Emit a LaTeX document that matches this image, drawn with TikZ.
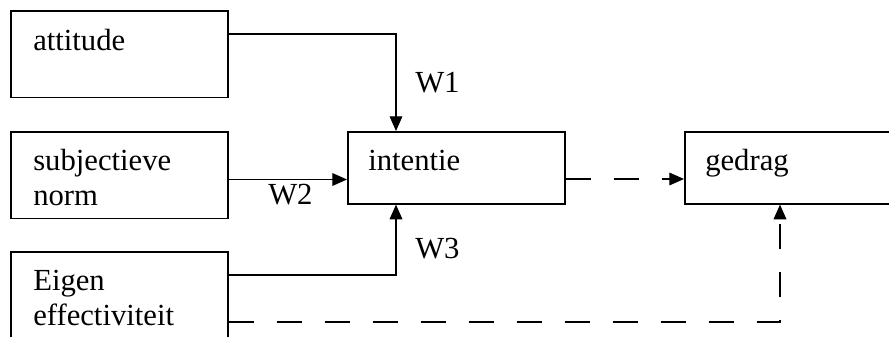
\documentclass[tikz,border=0pt]{standalone}
\usepackage{fontspec}
\setmainfont{Liberation Serif}
\usetikzlibrary{arrows.meta,calc}

\tikzset{
  box/.style={draw, line width=1.2pt, rectangle, anchor=north west, inner sep=0pt,
    minimum width=163pt, minimum height=65pt},
  lbl/.style={anchor=base west, inner sep=0pt, align=left,
    font=\fontsize{23}{26.25}\selectfont},
  conn/.style={line width=0.9pt, -{Triangle[length=11pt,width=9.5pt]}},
  dashpat/.style={dash pattern=on 18.75pt off 17.25pt},
}

\begin{document}
\begin{tikzpicture}[x=0.75pt,y=0.75pt,yscale=-1,xscale=1]
    \clip (0,0) rectangle (889,336);

    %Shape: Rectangle [id:att]
    \node[box] (att) at (10,10) {};
    %Shape: Rectangle [id:subj]
    \node[box] (subj) at (10,131) {};
    %Shape: Rectangle [id:eig]
    \node[box] (eig) at (10,251) {};
    %Shape: Rectangle [id:int]
    \node[box, minimum height=54pt] (int) at (347,131) {};
    %Shape: Rectangle [id:ged]
    \node[box, minimum height=54pt] (ged) at (684,131) {};

    % Text Node
    \node[lbl] (attT) at ($(att.north west)+(23,40)$) {attitude};
    % Text Node (base is the last line)
    \node[lbl] (subjT) at ($(subj.north west)+(23,74)$) {subjectieve\\norm};
    % Text Node (base is the last line)
    \node[lbl] (eigT) at ($(eig.north west)+(23,74)$) {Eigen\\effectiviteit};
    % Text Node
    \node[lbl] (intT) at ($(int.north west)+(21,39)$) {intentie};
    % Text Node
    \node[lbl] (gedT) at ($(ged.north west)+(21,39)$) {gedrag};

    %Straight Lines [id:w1]
    \draw[conn] ($(att.north east)+(0,24)$) -| ($(int.north west)+(49,0)$);
    %Straight Lines [id:w2]
    \draw[conn] ($(subj.north east)+(0,48.5)$) coordinate (s) -- (s -| int.west);
    %Straight Lines [id:w3]
    \draw[conn] ($(eig.north east)+(0,24)$) -| ($(int.south west)+(49,0)$);
    %Straight Lines [id:dash1]
    \draw[conn, dashpat] ($(int.north east)+(0,48)$) coordinate (i) -- (i -| ged.west);
    %Straight Lines [id:dash2]
    \draw[conn, dashpat] ($(eig.north east)+(0,71)$) -| ($(ged.south west)+(96,0)$);

    % Text Node
    \node[lbl] (w1) at (415,92) {W1};
    % Text Node
    \node[lbl] (w2) at (268,204) {W2};
    % Text Node
    \node[lbl] (w3) at (415,258) {W3};

\end{tikzpicture}
\end{document}
